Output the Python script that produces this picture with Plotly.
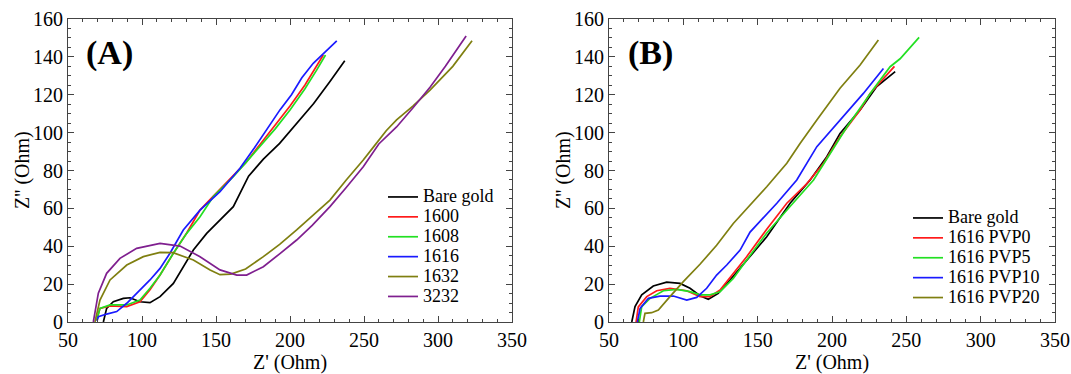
import plotly.graph_objects as go

# ---------------- Panel A data (Z', Z'') ----------------
a_bare_x = [73.9, 76.1, 80.6, 87.4, 91.9, 98.6, 105.4, 112.2, 121.2, 127.9, 134.7, 143.7, 152.7, 161.7, 172, 182, 193, 205, 216, 227, 237]
a_bare_y = [0, 7.2, 10.7, 12.5, 12.8, 10.7, 10.2, 13.4, 20.4, 29.2, 38, 46.8, 53.9, 60.9, 77, 86, 94.3, 105, 115.4, 127, 138]

a_1600_x = [69.4, 71.6, 78.4, 89.7, 98.6, 105.4, 112.2, 121.2, 130.2, 139.2, 148.2, 161.7, 170, 180, 190, 200, 210, 217, 222.5]
a_1600_y = [1, 7.2, 8.5, 8.1, 10.7, 17, 24.8, 36.3, 47, 59.1, 66.5, 77, 84, 94, 104, 114, 125, 134, 141]

a_1608_x = [69.4, 71.6, 78.4, 89.7, 98.6, 105.4, 112.2, 121.2, 130.2, 139.2, 148.2, 161.7, 170, 180, 190, 200, 210, 218, 224]
a_1608_y = [1, 7.2, 9, 9, 11.6, 17.8, 24.8, 36.3, 46.8, 55.6, 66.2, 76.7, 84, 93, 102, 112, 123, 133, 141]

a_1616_x = [69.6, 70.5, 76.1, 82.9, 89.7, 96.4, 105.4, 112.2, 118.9, 127.9, 139.2, 152.7, 166.2, 176, 184, 193.2, 201, 208, 215.7, 224, 231.6]
a_1616_y = [0.5, 2.8, 4.2, 5.5, 9.9, 15.1, 22.2, 28.3, 36.3, 48.6, 59.1, 68.8, 81.2, 92, 101, 112, 120, 129, 136.6, 143, 148.5]

a_1632_x = [68.2, 71.6, 78.4, 89.7, 100.9, 112.2, 121, 134.7, 146, 152.7, 160, 170, 182, 193, 204.5, 215, 227, 238, 249.5, 257, 265, 272, 283, 294.6, 300, 310, 323]
a_1632_y = [0, 11.6, 22.2, 30.1, 34.5, 36.8, 36.6, 32.7, 27.5, 25, 25.3, 28, 34.5, 41, 48.6, 56, 64.4, 75, 85.5, 93, 101, 106.7, 114, 122.5, 127, 135, 148.5]

a_3232_x = [67.1, 70.5, 76.1, 85.1, 96.4, 112.2, 125.7, 139.2, 152.7, 164, 170.7, 182, 193, 204.5, 215, 227, 238, 249.5, 260, 272, 283, 294.6, 305, 312, 319]
a_3232_y = [0, 15.2, 25.7, 33.6, 38.9, 41.5, 40.1, 34.5, 27.5, 24.8, 24.8, 29.2, 36, 43.3, 51, 60.9, 71, 82, 94, 103, 113, 124, 135, 143, 151]

# ---------------- Panel B data (Z', Z'') ----------------
b_bare_x = [65.3, 67.5, 72, 79.8, 88.8, 97.8, 104.5, 111.2, 116.8, 123.5, 131.4, 142.6, 156.1, 171.8, 185.3, 196.5, 205.4, 218.9, 230.1, 242.5]
b_bare_y = [0, 8.1, 14.3, 19, 21, 20.4, 17.8, 13.9, 12, 15.1, 22.2, 32.7, 45, 62.7, 75, 87.3, 99.6, 112, 124.3, 132.2]

b_pvp0_x = [68.2, 69.7, 75.4, 82.1, 91, 102.3, 111.2, 117.9, 124.7, 133.6, 142.6, 156.1, 169.6, 183, 194.3, 205.4, 218.9, 225.6, 236.8, 242]
b_pvp0_y = [0, 8, 13.4, 16.5, 17.8, 16.5, 13.4, 13.4, 16.9, 25.7, 34.5, 49, 62.7, 73, 83.8, 97.8, 112, 120.7, 130.4, 135]

b_pvp5_x = [70.4, 72, 77.6, 86.6, 95.6, 104.5, 111.2, 117.9, 124.7, 133.6, 142.6, 156.1, 171.8, 187.6, 198.8, 210, 221.1, 227.9, 239.1, 245.8, 258.6]
b_pvp5_y = [0, 8.1, 12.5, 16.5, 17.2, 16, 14.3, 14.3, 16, 23, 32.7, 47, 61, 75, 89, 103, 115.4, 123, 134.8, 139, 150.3]

b_pvp10_x = [69.1, 70.9, 76.5, 84.3, 93.3, 102.3, 109, 115.7, 122.4, 129.2, 138.2, 144.9, 162.9, 176.3, 189.8, 205.4, 221.1, 234.6]
b_pvp10_y = [0, 7.2, 12.5, 13.7, 13.7, 11.6, 13, 17.8, 24.8, 30.1, 38, 47.5, 62.7, 75, 92.6, 106.7, 120.7, 133.9]

b_pvp20_x = [73.1, 74.2, 78.7, 83.2, 91, 100, 111.2, 122.4, 133.6, 144.9, 156.1, 169.6, 178.5, 189.8, 205.4, 218.9, 231.2]
b_pvp20_y = [0, 4.6, 4.9, 6.3, 13.4, 21.3, 30.5, 40.5, 52, 61.8, 71.4, 83.8, 94.3, 106.7, 123.4, 135.7, 148.9]

names_a = ["Bare gold", "1600", "1608", "1616", "1632", "3232"]
names_b = ["Bare gold", "1616 PVP0", "1616 PVP5", "1616 PVP10", "1616 PVP20"]
colors_a = ["#000000", "#ff1a1a", "#22e022", "#1a1aff", "#7f7f10", "#7f1f8f"]
colors_b = ["#000000", "#ff1a1a", "#22e022", "#1a1aff", "#7f7f10"]

series_a = [(a_bare_x, a_bare_y), (a_1600_x, a_1600_y), (a_1608_x, a_1608_y),
            (a_1616_x, a_1616_y), (a_1632_x, a_1632_y), (a_3232_x, a_3232_y)]
series_b = [(b_bare_x, b_bare_y), (b_pvp0_x, b_pvp0_y), (b_pvp5_x, b_pvp5_y),
            (b_pvp10_x, b_pvp10_y), (b_pvp20_x, b_pvp20_y)]

FONT = "Liberation Serif, Times New Roman, serif"
W, H = 1071, 374
LEG_TEXT = 18

def leg_name(n):
    return "<span style='font-size:%dpx'>%s</span>" % (LEG_TEXT, n)

fig = go.Figure()
for (x, y), n, c in zip(series_a, names_a, colors_a):
    fig.add_trace(go.Scatter(x=x, y=y, mode="lines", name=leg_name(n), line=dict(color=c, width=1.7),
                             xaxis="x", yaxis="y", legend="legend"))
for (x, y), n, c in zip(series_b, names_b, colors_b):
    fig.add_trace(go.Scatter(x=x, y=y, mode="lines", name=leg_name(n), line=dict(color=c, width=1.7),
                             xaxis="x2", yaxis="y2", legend="legend2"))

def px_x(p):
    return p / W

def px_y(p):
    return 1 - p / H

ydom = [px_y(322), px_y(19)]

def xax(dom, anchor):
    return dict(domain=dom, anchor=anchor, range=[50, 350], tickmode="linear", tick0=50, dtick=50,
                ticks="inside", ticklen=6, tickcolor="#444", showline=True, linecolor="#444", linewidth=1,
                mirror="allticks", showgrid=False, zeroline=False, automargin=False,
                minor=dict(ticks="inside", ticklen=3, dtick=10, tickcolor="#444", showgrid=False),
                tickfont=dict(family=FONT, size=20, color="black"),
                title=dict(text="Z' (Ohm)", font=dict(family=FONT, size=20, color="black"), standoff=2))

def yax(anchor):
    return dict(domain=ydom, anchor=anchor, range=[0, 160], tickmode="linear", tick0=0, dtick=20,
                ticks="inside", ticklen=6, tickcolor="#444", showline=True, linecolor="#444", linewidth=1,
                mirror="allticks", showgrid=False, zeroline=False, automargin=False,
                minor=dict(ticks="inside", ticklen=3, dtick=5, tickcolor="#444", showgrid=False),
                tickfont=dict(family=FONT, size=20, color="black"))

fig.update_layout(
    width=W, height=H,
    margin=dict(l=0, r=0, t=0, b=0),
    paper_bgcolor="white", plot_bgcolor="white",
    font=dict(family=FONT, color="black"),
    xaxis=xax([px_x(68), px_x(512)], "y"),
    yaxis=yax("x"),
    xaxis2=xax([px_x(609), px_x(1055)], "y2"),
    yaxis2=yax("x2"),
    legend=dict(x=px_x(383), y=px_y(182), xanchor="left", yanchor="top",
                font=dict(family=FONT, size=13, color="black"), bgcolor="rgba(0,0,0,0)",
                tracegroupgap=0, itemwidth=30),
    legend2=dict(x=px_x(908), y=px_y(203), xanchor="left", yanchor="top",
                 font=dict(family=FONT, size=13, color="black"), bgcolor="rgba(0,0,0,0)",
                 tracegroupgap=0, itemwidth=30),
    showlegend=True,
    annotations=[
        dict(text="<b>(A)</b>", x=px_x(84), y=px_y(53), xref="paper", yref="paper",
             xanchor="left", yanchor="middle", showarrow=False,
             font=dict(family=FONT, size=34, color="black")),
        dict(text="<b>(B)</b>", x=px_x(626), y=px_y(53), xref="paper", yref="paper",
             xanchor="left", yanchor="middle", showarrow=False,
             font=dict(family=FONT, size=34, color="black")),
        dict(text="Z'' (Ohm)", x=px_x(22), y=px_y(170), xref="paper", yref="paper",
             xanchor="center", yanchor="middle", showarrow=False, textangle=-90,
             font=dict(family=FONT, size=20, color="black")),
        dict(text="Z'' (Ohm)", x=px_x(563), y=px_y(170), xref="paper", yref="paper",
             xanchor="center", yanchor="middle", showarrow=False, textangle=-90,
             font=dict(family=FONT, size=20, color="black")),
    ],
)

fig.write_html("out.html")
